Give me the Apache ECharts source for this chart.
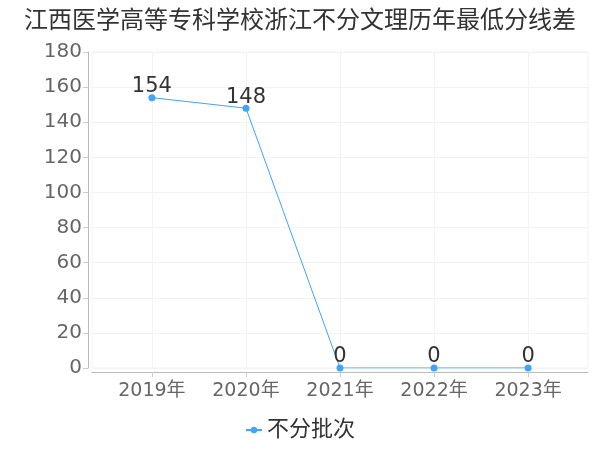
<!DOCTYPE html>
<html><head><meta charset="utf-8">
<script src="https://cdn.jsdelivr.net/npm/echarts@6/dist/echarts.min.js"></script>
<style>html,body{margin:0;padding:0;}#c{width:600px;height:450px;}</style>
</head><body><div id="c"></div>
<script>
var title = '江西医学高等专科学校浙江不分文理历年最低分线差';
var years = ['2019年','2020年','2021年','2022年','2023年'];
var values = [154, 148, 0, 0, 0];
var seriesName = '不分批次';
var yTicks = [0,20,40,60,80,100,120,140,160,180];

var font = '"DejaVu Sans","Noto Sans CJK SC",sans-serif';
var chart = echarts.init(document.getElementById('c'));
var idx = years.map(function(_, i){ return i; });
chart.setOption({
  animation: false,
  title: {text: title, left: 'center', top: 5, textStyle: {fontFamily: font, fontSize: 24, fontWeight: 'normal', color: '#333'}},
  grid: {left: 92, right: 12, top: 52, bottom: 82, show: true, borderColor: '#f3f3f3', borderWidth: 1},
  legend: {bottom: 4, left: 'center', itemWidth: 16, itemHeight: 8, itemGap: 4, textStyle: {fontFamily: font, fontSize: 22, color: '#333'}, data: [seriesName]},
  xAxis: {
    type: 'value', min: -0.637, max: 4.637, offset: 4,
    axisLine: {show: true, onZero: false, lineStyle: {color: '#bbb'}},
    axisTick: {show: true, customValues: idx, lineStyle: {color: '#ccc'}},
    axisLabel: {customValues: idx, fontFamily: font, fontSize: 19, color: '#666', margin: 10,
      formatter: function(v){ return years[Math.round(v)]; }},
    splitLine: {show: true, lineStyle: {color: '#f3f3f3'}}
  },
  yAxis: {
    type: 'value', min: yTicks[0], max: yTicks[yTicks.length-1], interval: 20, offset: 4,
    axisLine: {show: true, onZero: false, lineStyle: {color: '#bbb'}},
    axisTick: {show: true, lineStyle: {color: '#ccc'}},
    axisLabel: {fontFamily: font, fontSize: 20, color: '#666', margin: 6},
    splitLine: {show: true, lineStyle: {color: '#f3f3f3'}}
  },
  series: [{
    name: seriesName, type: 'line',
    data: idx.map(function(i){ return [i, values[i]]; }),
    symbol: 'circle', symbolSize: 7,
    itemStyle: {color: '#3fa3ff'},
    lineStyle: {color: '#3fa3ff', width: 1},
    label: {show: true, position: 'top', fontFamily: font, fontSize: 21, color: '#333', distance: -3}
  }]
});
</script></body></html>
